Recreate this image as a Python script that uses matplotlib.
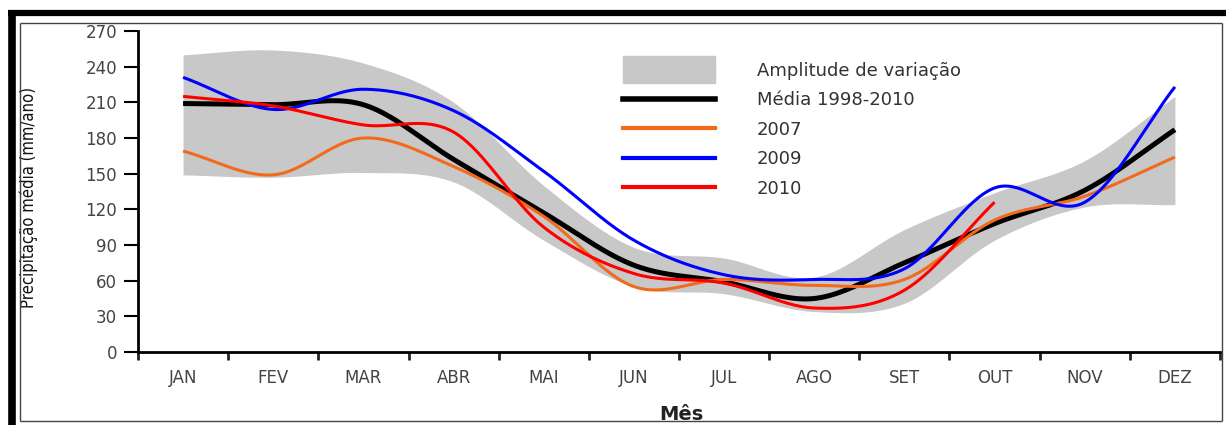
import numpy as np
import matplotlib
matplotlib.use("Agg")
import matplotlib.pyplot as plt
import matplotlib.patches as mpatches
from matplotlib.lines import Line2D
from matplotlib.legend_handler import HandlerPatch
from matplotlib import font_manager

months = ['JAN', 'FEV', 'MAR', 'ABR', 'MAI', 'JUN', 'JUL', 'AGO', 'SET', 'OUT', 'NOV', 'DEZ']
media = [209, 208, 208, 162, 117, 73, 59, 45, 75, 108, 136, 187]
y2007 = [169, 149, 180, 156, 114, 55, 61, 56, 61, 111, 131, 164]
y2009 = [231, 204, 221, 203, 152, 94, 65, 61, 70, 138, 126, 223]
y2010 = [215, 207, 191, 185, 105, 66, 58, 37, 52, 126]
amp_upper = [250, 254, 243, 210, 140, 88, 79, 63, 103, 134, 161, 215]
amp_lower = [149, 147, 151, 143, 94, 55, 49, 34, 41, 94, 122, 124]
yticks = list(range(0, 271, 30))

plt.rcParams['font.family'] = ['DejaVu Sans']

# condensed font for the y label if one is available
fonts = font_manager.fontManager.ttflist
names = {f.name for f in fonts}
ylab_kw = dict(fontsize=10.8, family=['Liberation Sans', 'DejaVu Sans'])
if 'Liberation Sans Narrow' in names:
    ylab_kw = dict(fontsize=13, family=['Liberation Sans Narrow', 'DejaVu Sans'])
elif any(f.name == 'DejaVu Sans' and f.stretch == 'condensed' for f in fonts):
    ylab_kw = dict(fontsize=12, family=['DejaVu Sans'], fontstretch='condensed')


def smooth(xs, ys, n=40):
    """Catmull-Rom spline through the points (for drawing smoothed lines)."""
    xs = np.asarray(xs, float)
    ys = np.asarray(ys, float)
    px = np.concatenate([[2 * xs[0] - xs[1]], xs, [2 * xs[-1] - xs[-2]]])
    py = np.concatenate([[2 * ys[0] - ys[1]], ys, [2 * ys[-1] - ys[-2]]])
    ox, oy = [], []
    for i in range(1, len(px) - 2):
        t = np.linspace(0, 1, n, endpoint=(i == len(px) - 3))
        for p, o in ((px, ox), (py, oy)):
            p0, p1, p2, p3 = p[i - 1], p[i], p[i + 1], p[i + 2]
            o.extend(0.5 * ((2 * p1) + (-p0 + p2) * t
                            + (2 * p0 - 5 * p1 + 4 * p2 - p3) * t ** 2
                            + (-p0 + 3 * p1 - 3 * p2 + p3) * t ** 3))
    return np.array(ox), np.array(oy)


W, H = 1226, 425
fig = plt.figure(figsize=(W / 100, H / 100), dpi=100)
ax = fig.add_axes([138 / W, 1 - 352 / H, (1220 - 138) / W, (352 - 31) / H])

x = np.arange(1, 13)

ux, uy = smooth(x, amp_upper)
lx, ly = smooth(x, amp_lower)
ax.fill_between(ux, ly, uy, color='#c8c8c8', linewidth=0, zorder=1)

for vals, col, lw, z in ((y2007, '#f26a1c', 2.2, 3), (media, 'black', 3.6, 2),
                         (y2009, '#0000ff', 2.2, 4), (y2010, '#ff0000', 2.2, 5)):
    sx, sy = smooth(x[:len(vals)], vals)
    ax.plot(sx, sy, color=col, lw=lw, zorder=z, solid_capstyle='butt')

ax.set_xlim(0.5, 12.5)
ax.set_ylim(0, 270)
ax.set_yticks(yticks)
ax.set_xticks(x)
ax.set_xticklabels(months)
ax.set_xticks(np.arange(0.5, 12.6, 1), minor=True)
ax.tick_params(axis='x', which='major', length=0, pad=12, labelsize=12, colors='#444444')
ax.tick_params(axis='x', which='minor', length=6, width=2, direction='out', color='#222222')
ax.tick_params(axis='y', length=10, width=1.5, pad=5, labelsize=12, labelcolor='#444444')
for s in ('top', 'right'):
    ax.spines[s].set_visible(False)
for s in ('left', 'bottom'):
    ax.spines[s].set_linewidth(2)
ax.set_facecolor('white')

ax.set_ylabel('Precipitação média (mm/ano)', color='#111111', **ylab_kw)
ax.yaxis.set_label_coords(-0.092, 0.48)
fig.text(681 / W, 1 - 415 / H, 'Mês', ha='center', va='center', fontsize=14,
         fontweight='bold', color='#222222')


def make_rect(legend, orig_handle, xdescent, ydescent, width, height, fontsize):
    return mpatches.Rectangle((-xdescent, -ydescent - 0.55 * height), width, 2.1 * height)


handles = [mpatches.Patch(color='#c8c8c8'),
           Line2D([], [], color='black', lw=4),
           Line2D([], [], color='#f26a1c', lw=3),
           Line2D([], [], color='#0000ff', lw=3),
           Line2D([], [], color='#ff0000', lw=3)]
labels = ['Amplitude de variação', 'Média 1998-2010', '2007', '2009', '2010']
leg = ax.legend(handles, labels, loc='upper left',
                bbox_to_anchor=((623 - 138) / (1220 - 138), 1 - (62 - 31) / (352 - 31)),
                frameon=False, fontsize=13, handlelength=5.1, handletextpad=2.3,
                labelspacing=0.63, borderaxespad=0, borderpad=0,
                handler_map={mpatches.Patch: HandlerPatch(patch_func=make_rect)})
for t in leg.get_texts():
    t.set_color('#333333')


# outer frame
def fline(x0, y0, x1, y1, lw, col):
    fig.add_artist(Line2D([x0 / W, x1 / W], [1 - y0 / H, 1 - y1 / H],
                          transform=fig.transFigure, color=col, lw=lw,
                          solid_capstyle='butt'))


fline(11.5, 10, 11.5, 425, 5.5, 'black')
fline(8, 13, 1226, 13, 4.5, 'black')
fline(20, 23, 1222, 23, 1.0, '#444444')
fline(20, 23, 20, 421, 1.0, '#444444')
fline(1222, 23, 1222, 421, 1.0, '#444444')
fline(20, 421, 1222, 421, 1.0, '#444444')

fig.savefig('out.png', dpi=100)
